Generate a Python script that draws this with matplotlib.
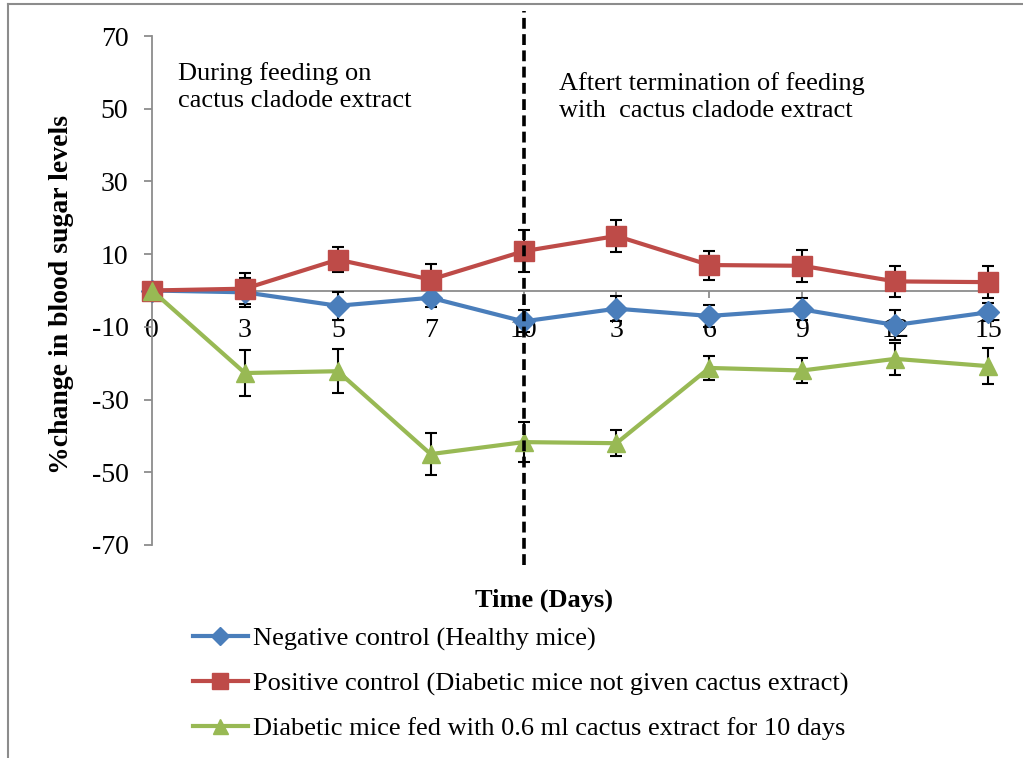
import matplotlib.pyplot as plt
import numpy as np
from matplotlib.lines import Line2D

plt.rcParams['font.family'] = ['Liberation Serif', 'DejaVu Serif']
plt.rcParams['axes.unicode_minus'] = False

### data
day_labels = ['0', '3', '5', '7', '10', '3', '6', '9', '12', '15']

neg_ctrl = [0, -0.5, -4.2, -2.0, -8.5, -5.0, -7.0, -5.2, -9.5, -6.0]
neg_err = [0, 4.0, 3.9, 2.5, 3.0, 3.5, 3.0, 3.0, 4.0, 2.5]

pos_ctrl = [0, 0.5, 8.5, 3.0, 10.8, 15.0, 7.0, 6.8, 2.5, 2.3]
pos_err = [0, 4.2, 3.4, 4.4, 5.8, 4.4, 4.0, 4.4, 4.2, 4.4]

cactus = [0, -22.7, -22.2, -45.0, -41.7, -42.0, -21.3, -22.0, -18.8, -20.8]
cactus_err = [0, 6.4, 6.0, 5.7, 5.5, 3.6, 3.3, 3.4, 4.4, 5.0]

labels = ['Negative control (Healthy mice)',
          'Positive control (Diabetic mice not given cactus extract)',
          'Diabetic mice fed with 0.6 ml cactus extract for 10 days']

blue = '#4a7ebb'
red = '#be4b48'
green = '#98b954'

x = np.arange(len(day_labels))

fig = plt.figure(figsize=(10.23, 7.58), dpi=100)
ax = fig.add_axes([152/1023, 1-545/758, (988-152)/1023, (545-36)/758])

series = [(neg_ctrl, neg_err, blue, 'D', 11),
          (pos_ctrl, pos_err, red, 's', 14),
          (cactus, cactus_err, green, '^', 13.5)]

handles = []
for vals, err, col, mk, ms in series:
    ax.errorbar(x, vals, yerr=err, fmt='none', ecolor='black', elinewidth=1.5,
                capsize=4, capthick=1.5, zorder=2, clip_on=False)
    h, = ax.plot(x, vals, color=col, lw=3, marker=mk, ms=ms, zorder=3, clip_on=False)
    handles.append(h)

# separation line at end of feeding
ax.axvline(4, ymin=-0.04, ymax=1.05, color='black', lw=2.6, ls=(0, (3, 1.5)),
           clip_on=False, zorder=5)

ax.set_xlim(0, 9)
ax.set_ylim(-70, 70)
ax.set_yticks(range(-70, 71, 20))
ax.set_xticks(x)
ax.set_xticklabels(day_labels)

for s in ['top', 'right']:
    ax.spines[s].set_visible(False)
ax.spines['left'].set_color('#8c8c8c')
ax.spines['bottom'].set_color('#8c8c8c')
ax.spines['left'].set_linewidth(1.3)
ax.spines['bottom'].set_linewidth(1.3)
ax.spines['bottom'].set_position(('data', 0))
ax.spines['bottom'].set_zorder(1)

ax.tick_params(axis='y', colors='#8c8c8c', labelcolor='black', labelsize=20,
               length=6, width=1.3, pad=11)
ax.tick_params(axis='x', colors='#8c8c8c', labelcolor='black', labelsize=20,
               length=5, width=1.3, pad=15)

ax.set_ylabel('%change in blood sugar levels', fontsize=20, fontweight='bold',
              va='center')
ax.yaxis.set_label_coords(-0.108, 0.493)
ax.set_xlabel('Time (Days)', fontsize=19, fontweight='bold', va='center')
ax.xaxis.set_label_coords(0.469, -0.108)

fig.text(178/1023, 1-87/758, 'During feeding on\ncactus cladode extract',
         fontsize=19, va='center', ha='left', linespacing=1.34)
fig.text(559/1023, 1-97/758, 'Aftert termination of feeding\nwith  cactus cladode extract',
         fontsize=19, va='center', ha='left', linespacing=1.34)

fig.legend(handles, labels, loc='upper left', bbox_to_anchor=(193/1023, 1-627/758),
           frameon=False, fontsize=19, handlelength=2.08, handletextpad=0.19,
           labelspacing=0.8, borderaxespad=0, borderpad=0, markerscale=0.8)

# outer chart border (top and left edges visible)
fig.add_artist(Line2D([8/1023, 8/1023], [0, 1-4/758], color='#8c8c8c', lw=1.5,
                      transform=fig.transFigure))
fig.add_artist(Line2D([8/1023, 1], [1-4/758, 1-4/758], color='#8c8c8c', lw=1.5,
                      transform=fig.transFigure))

fig.savefig('out.png', dpi=100)
